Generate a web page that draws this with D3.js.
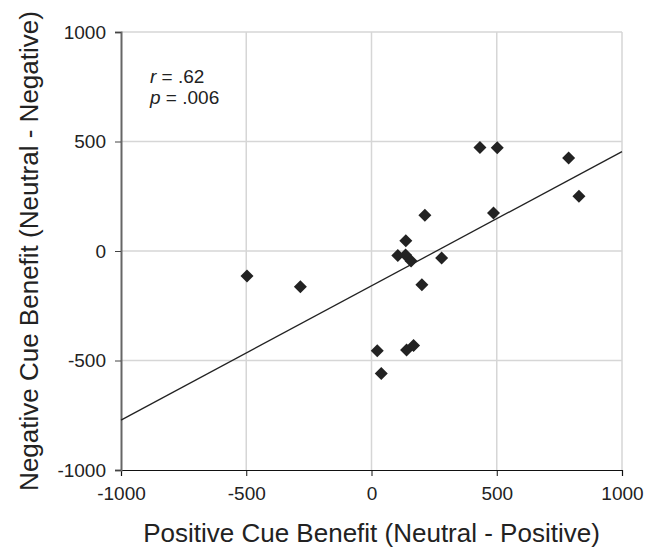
<!DOCTYPE html>
<html>
<head>
<meta charset="utf-8">
<script src="https://cdn.jsdelivr.net/npm/d3@7"></script>
<style>
  body { margin: 0; background: #fff; }
  text { font-family: "Liberation Sans", Arial, sans-serif; fill: #222; }
</style>
</head>
<body>
<div id="scatter"></div>
<script>
// data
var positiveBenefit = [433, 502, 787, 828, 487, 213, 137, 105, 136, 158, 280, 201, 23, 39, 140, 168, -497, -284];
var negativeBenefit = [473, 472, 425, 250, 173, 163, 47, -21, -18, -46, -32, -154, -455, -559, -452, -432, -114, -163];
var tickValues = [-1000, -500, 0, 500, 1000];
var fitIntercept = -159, fitSlope = 0.613;

var margin = {top: 32, right: 37, bottom: 80, left: 121},
    width = 659 - margin.left - margin.right,
    height = 550 - margin.top - margin.bottom;

var svg = d3.select("#scatter")
  .append("svg")
  .attr("width", 659)
  .attr("height", 550)
  .append("g")
  .attr("transform", "translate(" + margin.left + "," + margin.top + ")");

var x = d3.scaleLinear().domain([-1000, 1000]).range([0, width]);
var y = d3.scaleLinear().domain([-1000, 1000]).range([height, 0]);

// grid
svg.append("g").selectAll("line.vg")
  .data(tickValues.slice(1))
  .enter().append("line")
  .attr("x1", d => x(d)).attr("x2", d => x(d))
  .attr("y1", 0).attr("y2", height)
  .style("stroke", "#d6d6d6").style("stroke-width", 1.5);

svg.append("g").selectAll("line.hg")
  .data(tickValues.slice(1))
  .enter().append("line")
  .attr("y1", d => y(d)).attr("y2", d => y(d))
  .attr("x1", 0).attr("x2", width)
  .style("stroke", "#d6d6d6").style("stroke-width", 1.5);

// plain hyphen for negatives, like the original
var fmt = d => String(d);

// x axis
var xAxis = svg.append("g")
  .attr("transform", "translate(0," + height + ")")
  .call(d3.axisBottom(x).tickValues(tickValues).tickSize(6).tickPadding(11).tickFormat(fmt));
xAxis.select(".domain").attr("stroke", "#111").attr("stroke-width", 1.2);
xAxis.selectAll(".tick line").attr("stroke", "#111");
xAxis.selectAll("text").style("font-size", "19px").style("font-family", "Liberation Sans, Arial, sans-serif").attr("fill", "#222");

// y axis
var yAxis = svg.append("g")
  .call(d3.axisLeft(y).tickValues(tickValues).tickSize(6).tickPadding(9).tickFormat(fmt));
yAxis.select(".domain").attr("stroke", "#666").attr("stroke-width", 2);
yAxis.selectAll(".tick line").attr("stroke", "#444");
yAxis.selectAll("text").style("font-size", "19px").style("font-family", "Liberation Sans, Arial, sans-serif").attr("fill", "#222");

// regression line
svg.append("line")
  .attr("x1", x(-1000)).attr("y1", y(fitIntercept + fitSlope * -1000))
  .attr("x2", x(1000)).attr("y2", y(fitIntercept + fitSlope * 1000))
  .style("stroke", "#222").style("stroke-width", 1.3);

// diamonds
svg.selectAll("path.dot")
  .data(positiveBenefit.map((d, i) => [d, negativeBenefit[i]]))
  .enter().append("path")
  .attr("d", "M0,-6.5L6.5,0L0,6.5L-6.5,0Z")
  .attr("transform", d => "translate(" + x(d[0]) + "," + y(d[1]) + ")")
  .style("fill", "#222");

// stats
var stat = svg.append("text").attr("x", 29).attr("y", 51).style("font-size", "19px");
stat.append("tspan").style("font-style", "italic").text("r");
stat.append("tspan").text(" = .62");
var stat2 = svg.append("text").attr("x", 29).attr("y", 72).style("font-size", "19px");
stat2.append("tspan").style("font-style", "italic").text("p");
stat2.append("tspan").text(" = .006");

// x label
svg.append("text")
  .attr("text-anchor", "middle")
  .attr("x", width / 2)
  .attr("y", height + 72)
  .style("font-size", "26px")
  .text("Positive Cue Benefit (Neutral - Positive)");

// y label
svg.append("text")
  .attr("text-anchor", "middle")
  .attr("transform", "rotate(-90)")
  .attr("x", -height / 2)
  .attr("y", -83)
  .style("font-size", "26px")
  .text("Negative Cue Benefit (Neutral - Negative)");
</script>
</body>
</html>
